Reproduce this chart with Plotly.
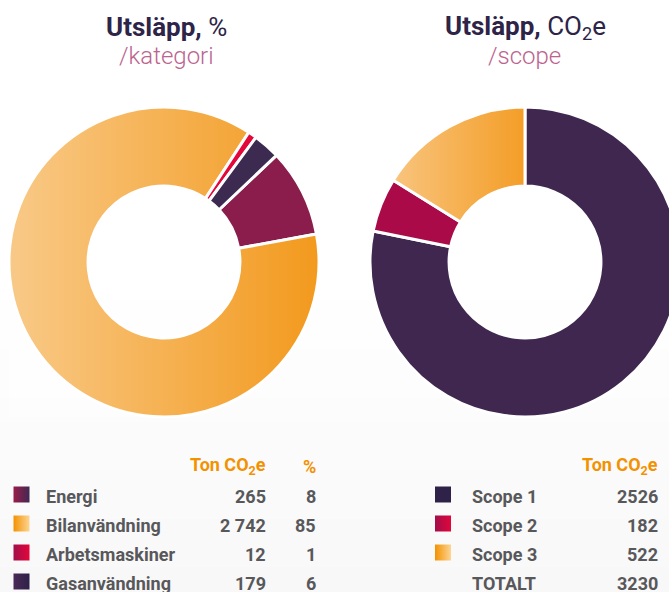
import base64
import math
import struct
import zlib

import plotly.graph_objects as go

# ---- data ----
cat_labels = ["Energi", "Bilanvändning", "Arbetsmaskiner", "Gasanvändning"]
cat_ton = ["265", "2 742", "12", "179"]
cat_pct = ["8", "85", "1", "6"]
# donut shares (%)
cat_donut = [9.2, 87.1, 0.9, 2.8]
cat_colors = ["#8b1d4c", "#f39a1e", "#e4083a", "#3c2a50"]
cat_sq_left = ["#9c1a4b", "#f39200", "#a10f4a", "#4a2a56"]
cat_sq_right = ["#3e2a52", "#fdd594", "#e3063b", "#2d2046"]

scope_labels = ["Scope 1", "Scope 2", "Scope 3"]
scope_ton = [2526, 182, 522]
scope_colors = ["#3f2750", "#aa0b48", "#f49e28"]
scope_sq_left = ["#2e2248", "#a30e4a", "#f39200"]
scope_sq_right = ["#2e2248", "#e0063b", "#fdd594"]
total_label = "TOTALT"
total_value = 3230

W, H = 681, 592          # figure is a little wider than the 669 px window (right donut is cut)
FONT = "Roboto"
DARK = "#2d2447"
PINK = "#bb648e"
ORANGE = "#f39200"
GRAY = "#58585a"

L_ROT = 46.5
L_BOX = (9, 107, 310)      # x0, y0, size in px
R_BOX = (370, 107, 310)


def px(x):
    return x / W


def py(y):
    return 1 - y / H


def png_uri(width, height, pix):
    rows = []
    for j in range(height):
        rows.append(b"\x00" + b"".join(bytes(pix(i, j)) for i in range(width)))
    raw = b"".join(rows)

    def chunk(tag, data):
        c = tag + data
        return struct.pack(">I", len(data)) + c + struct.pack(">I", zlib.crc32(c) & 0xFFFFFFFF)

    png = (b"\x89PNG\r\n\x1a\n"
           + chunk(b"IHDR", struct.pack(">IIBBBBB", width, height, 8, 6, 0, 0, 0))
           + chunk(b"IDAT", zlib.compress(raw, 9))
           + chunk(b"IEND", b""))
    return "data:image/png;base64," + base64.b64encode(png).decode()


def sector(values, idx, rotation):
    tot = sum(values)
    a0 = rotation + 360 * sum(values[:idx]) / tot
    a1 = a0 + 360 * values[idx] / tot
    return a0, a1


def in_sector(ang, a0, a1):
    return ((ang - a0) % 360) <= (a1 - a0)


def sheen(box, a0, a1, x_from, x_to, amax, x0img=None, y0img=None, wimg=None, himg=None):
    bx, by, bs = box
    cx, cy = bx + bs / 2, by + bs / 2
    x0img = bx if x0img is None else x0img
    y0img = by if y0img is None else y0img
    wimg = bs if wimg is None else wimg
    himg = bs if himg is None else himg

    def pix(i, j):
        x = x0img + i + 0.5
        y = y0img + j + 0.5
        ang = math.degrees(math.atan2(x - cx, cy - y)) % 360
        if not in_sector(ang, a0, a1):
            return (255, 255, 255, 0)
        t = min(1.0, max(0.0, (x - x_from) / (x_to - x_from)))
        return (255, 255, 255, int(round(255 * amax * (1 - t))))

    src = png_uri(wimg, himg, pix)
    return dict(source=src, xref="paper", yref="paper", x=px(x0img), y=py(y0img),
                sizex=wimg / W, sizey=himg / H, sizing="stretch",
                xanchor="left", yanchor="top", layer="above")


fig = go.Figure()

fig.add_trace(go.Pie(
    labels=cat_labels, values=cat_donut, sort=False, direction="clockwise",
    rotation=L_ROT, hole=0.49, textinfo="none", hoverinfo="label+percent",
    marker=dict(colors=cat_colors, line=dict(color="white", width=3)),
    domain=dict(x=[px(L_BOX[0]), px(L_BOX[0] + L_BOX[2])], y=[py(L_BOX[1] + L_BOX[2]), py(L_BOX[1])]),
    showlegend=False,
))

fig.add_trace(go.Pie(
    labels=scope_labels, values=scope_ton, sort=False, direction="clockwise",
    rotation=0, hole=0.49, textinfo="none", hoverinfo="label+value",
    marker=dict(colors=scope_colors, line=dict(color="white", width=3)),
    domain=dict(x=[px(R_BOX[0]), px(R_BOX[0] + R_BOX[2])], y=[py(R_BOX[1] + R_BOX[2]), py(R_BOX[1])]),
    showlegend=False,
))

# horizontal light-to-dark sheen on the orange slices
la0, la1 = sector(cat_donut, 1, L_ROT)
ra0, ra1 = sector(scope_ton, 2, 0)
images = [
    sheen(L_BOX, la0, la1, L_BOX[0], L_BOX[0] + L_BOX[2], 0.47),
    sheen(R_BOX, ra0, ra1, 393, 525, 0.40, x0img=370, y0img=107, wimg=156, himg=156),
]

ann = []


def txt(x, y, s, size, color, anchor="center", weight="normal"):
    ann.append(dict(x=px(x), y=py(y), xref="paper", yref="paper", text=s,
                    showarrow=False, xanchor=anchor, yanchor="middle",
                    font=dict(family=FONT, size=size, color=color, weight=weight)))


# titles
txt(166, 27, "<b>Utsläpp,</b> %", 26, DARK)
txt(166, 56, "/kategori", 24, PINK, weight=300)
txt(525, 27, "<b>Utsläpp,</b> CO<sub>2</sub>e", 26, DARK)
txt(524, 56, "/scope", 24, PINK, weight=300)

# background: subtle vertical fade to light grey
shapes = []
bands = 12
for i in range(bands):
    y0 = 300 + i * (292 / bands)
    y1 = y0 + 292 / bands + 1
    g = 255 - int(round(7 * (i + 1) / bands))
    shapes.append(dict(type="rect", xref="paper", yref="paper", x0=0, x1=1,
                       y0=py(y1), y1=py(y0), line=dict(width=0),
                       fillcolor=f"rgb({g},{g},{min(255, g + 1)})", layer="below"))

rows_y = [496, 525, 554, 583]

# left table
txt(268, 466, "<b>Ton CO<sub>2</sub>e</b>", 18, ORANGE, "right")
txt(318, 466, "<b>%</b>", 18, ORANGE, "right")
sq_x, sq_y, sq_c, sq_g = [], [], [], []
for i, lab in enumerate(cat_labels):
    y = rows_y[i]
    sq_x.append(px(21.5)); sq_y.append(py(y - 1.5))
    sq_c.append(cat_sq_left[i]); sq_g.append(cat_sq_right[i])
    txt(44, y, f"<b>{lab}</b>", 18, GRAY, "left")
    txt(268, y, f"<b>{cat_ton[i]}</b>", 18, GRAY, "right")
    txt(318, y, f"<b>{cat_pct[i]}</b>", 18, GRAY, "right")

# right table
txt(660, 466, "<b>Ton CO<sub>2</sub>e</b>", 18, ORANGE, "right")
for i, lab in enumerate(scope_labels):
    y = rows_y[i]
    sq_x.append(px(443)); sq_y.append(py(y - 1.5))
    sq_c.append(scope_sq_left[i]); sq_g.append(scope_sq_right[i])
    txt(470, y, f"<b>{lab}</b>", 18, GRAY, "left")
    txt(660, y, f"<b>{scope_ton[i]}</b>", 18, GRAY, "right")
txt(470, rows_y[3], f"<b>{total_label}</b>", 18, GRAY, "left")
txt(660, rows_y[3], f"<b>{total_value}</b>", 18, GRAY, "right")

fig.add_trace(go.Scatter(
    x=sq_x, y=sq_y, mode="markers",
    marker=dict(symbol="square", size=16, color=sq_c, line=dict(width=0),
                gradient=dict(type="horizontal", color=sq_g)),
    hoverinfo="skip", showlegend=False,
))

fig.update_layout(
    width=W, height=H, margin=dict(l=0, r=0, t=0, b=0),
    paper_bgcolor="white", plot_bgcolor="rgba(0,0,0,0)",
    xaxis=dict(range=[0, 1], visible=False, domain=[0, 1], fixedrange=True),
    yaxis=dict(range=[0, 1], visible=False, domain=[0, 1], fixedrange=True),
    annotations=ann, shapes=shapes, images=images, showlegend=False,
)

fig.write_html(
    "out.html",
    config={"displayModeBar": False},
    post_script="document.body.style.margin='0';document.body.style.overflow='hidden';",
)
